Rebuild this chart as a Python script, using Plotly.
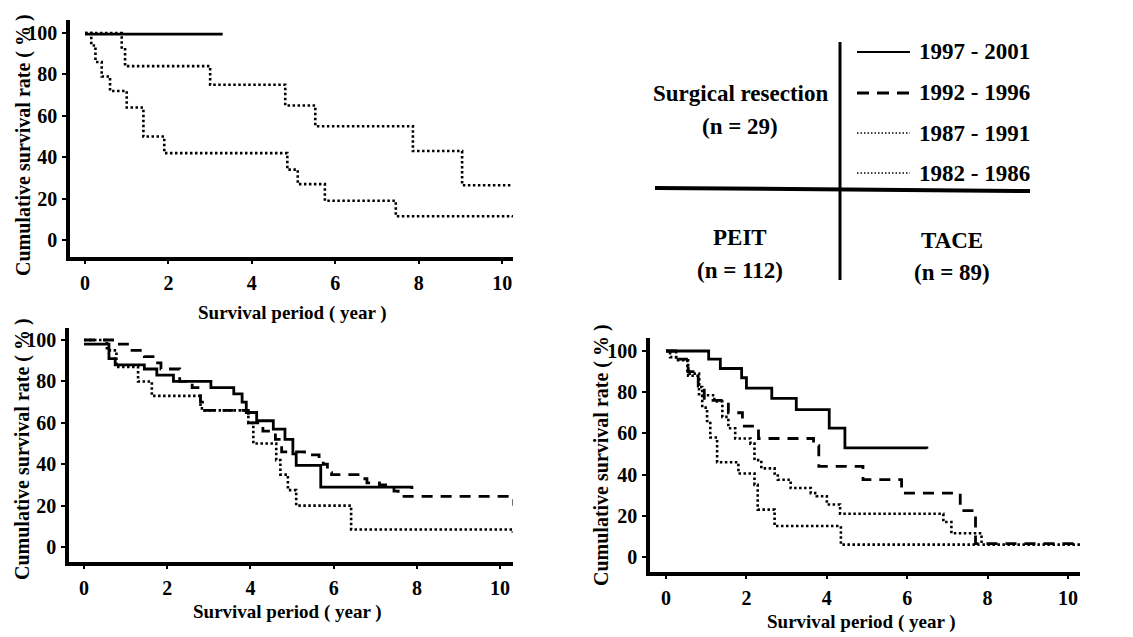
import plotly.graph_objects as go

# ---------------- data ----------------
# Surgical resection (n = 29)
sr_9701_x = [0, 3.3]
sr_9701_y = [99.5, 99.5]
sr_8791_x = [0, 0.88, 0.96, 3.0, 4.8, 5.52, 7.86, 9.04, 10.25]
sr_8791_y = [100, 93, 84, 75, 65, 55, 43, 26.5, 26.5]
sr_8286_x = [0, 0.15, 0.25, 0.4, 0.6, 1.0, 1.4, 1.9, 4.85, 5.1, 5.75, 7.45, 10.25]
sr_8286_y = [100, 94, 86, 79, 72, 64, 50, 42, 34, 27, 19, 11.5, 11]

# PEIT (n = 112)
peit_9701_x = [0, 0.6, 0.75, 1.45, 1.75, 2.15, 3.05, 3.6, 3.8, 3.9, 4.15, 4.55, 4.83, 5.02, 5.1, 5.69, 7.88]
peit_9701_y = [98, 91, 88, 86, 83, 80, 77, 74, 70, 65, 61, 57, 52, 45, 39.5, 29, 28]
peit_9296_x = [0, 0.85, 1.1, 1.45, 1.7, 1.85, 2.3, 2.6, 2.8, 2.9, 3.95, 4.3, 4.6, 4.75, 5.3, 5.65, 5.75, 5.85, 5.95,
               6.75, 6.8, 7.1, 7.45, 7.55, 10.3, 10.33]
peit_9296_y = [100, 98, 95, 92, 89, 86, 80, 77, 70, 66, 60, 56, 52, 46, 44.5, 42, 40, 36, 35,
               33, 31, 30, 27, 24.5, 24.5, 20]
peit_8791_x = [0, 0.55, 0.78, 1.3, 1.63, 2.8, 2.9, 3.95, 4.07, 4.62, 4.72, 4.9, 5.1, 6.42, 10.3]
peit_8791_y = [100, 95, 87, 80, 73, 67, 66, 60, 50, 42, 35, 27.5, 20, 8.5, 7]

# TACE (n = 89)
tace_9701_x = [0, 1.06, 1.35, 1.88, 2.0, 2.63, 3.24, 4.06, 4.45, 6.49]
tace_9701_y = [100, 96, 91.5, 87, 82, 77, 71.5, 62.5, 53, 52.5]
tace_9296_x = [0, 0.3, 0.55, 0.8, 0.95, 1.55, 1.9, 2.3, 3.67, 3.8, 4.9, 5.86, 7.32, 7.7, 10.3]
tace_9296_y = [100, 96, 90, 83, 76, 70, 63.5, 57.5, 54, 44, 37.5, 31, 22.5, 6.5, 6.5]
tace_8791_x = [0, 0.1, 0.3, 0.55, 0.82, 0.9, 1.2, 1.4, 1.55, 1.72, 2.1, 2.2, 2.37, 2.7, 2.78, 3.1, 3.6, 3.75,
               4.0, 4.33, 6.9, 7.1, 7.85, 10.3]
tace_8791_y = [100, 97, 95.5, 88, 82.5, 78.5, 75.5, 68, 62.5, 57.5, 55, 47, 43, 40.5, 37.5, 33.5, 31, 29.5,
               25.5, 21, 17, 11.5, 6, 6]
tace_8286_x = [0, 0.25, 0.53, 0.82, 0.9, 1.02, 1.1, 1.27, 1.8, 2.2, 2.28, 2.7, 4.35, 7.8]
tace_8286_y = [100, 96, 89, 79, 72.5, 66, 58, 46, 40.5, 35, 23, 15, 6, 6]

period_labels = ["1997 - 2001", "1992 - 1996", "1987 - 1991", "1982 - 1986"]
x_ticks = [0, 2, 4, 6, 8, 10]
y_ticks = [0, 20, 40, 60, 80, 100]

# ---------------- styles ----------------
W, H = 1133, 637
FONT = "Liberation Serif"
SOLID = dict(color="black", width=2.8)
DASH = dict(color="black", width=2.8, dash="11px,8px")
DOT = dict(color="black", width=2.6, dash="2.5px,2.5px")


def px(x):
    return x / W


def py(y):
    return 1 - y / H


fig = go.Figure()


def add(xs, ys, line, ax):
    fig.add_trace(go.Scatter(x=xs, y=ys, mode="lines", line=dict(shape="hv", **line),
                             xaxis="x" + ax, yaxis="y" + ax, showlegend=False, hoverinfo="skip"))


add(sr_9701_x, sr_9701_y, SOLID, "")
add(sr_8791_x, sr_8791_y, DOT, "")
add(sr_8286_x, sr_8286_y, DOT, "")

add(peit_9701_x, peit_9701_y, SOLID, "2")
add(peit_9296_x, peit_9296_y, DASH, "2")
add(peit_8791_x, peit_8791_y, DOT, "2")

add(tace_9701_x, tace_9701_y, SOLID, "3")
add(tace_9296_x, tace_9296_y, DASH, "3")
add(tace_8791_x, tace_8791_y, DOT, "3")
add(tace_8286_x, tace_8286_y, DOT, "3")

tickfont = dict(family=FONT, size=20, color="black", weight="bold")


def xax(domain, rng, anchor):
    return dict(domain=domain, range=rng, anchor=anchor, tickvals=x_ticks, ticks="outside", ticklen=3,
                tickwidth=2, tickcolor="black", showline=True, linewidth=3.5, linecolor="black",
                showgrid=False, zeroline=False, tickfont=tickfont, ticklabelstandoff=2, fixedrange=True)


def yax(domain, rng, anchor):
    return dict(domain=domain, range=rng, anchor=anchor, tickvals=y_ticks, ticks="outside", ticklen=4,
                tickwidth=2, tickcolor="black", showline=True, linewidth=3.5, linecolor="black",
                showgrid=False, zeroline=False, tickfont=tickfont, ticklabelstandoff=1, fixedrange=True)


fig.update_layout(
    width=W, height=H, margin=dict(l=0, r=0, t=0, b=0),
    paper_bgcolor="white", plot_bgcolor="white", showlegend=False,
    xaxis=xax([px(70), px(513)], [-0.36, 10.26], "y"),
    yaxis=yax([py(257), py(20)], [-8.2, 106.3], "x"),
    xaxis2=xax([px(69), px(513)], [-0.36, 10.31], "y2"),
    yaxis2=yax([py(562), py(328)], [-7.2, 105.8], "x2"),
    xaxis3=xax([px(650), px(1080)], [-0.4, 10.3], "y3"),
    yaxis3=yax([py(572), py(338)], [-7.3, 106.3], "x3"),
)

titlefont = dict(family=FONT, size=20, color="black", weight="bold")
ann = []
ytitle = "Cumulative survival rate ( % )"
xtitle = "Survival period ( year )"
for (xx, yy) in [(23, 145), (23, 449), (601, 455)]:
    ann.append(dict(x=px(xx), y=py(yy), xref="paper", yref="paper", text=ytitle, textangle=-90,
                    showarrow=False, font=titlefont, xanchor="center", yanchor="middle"))
for (xx, yy) in [(292, 313), (287, 612), (861, 622)]:
    ann.append(dict(x=px(xx), y=py(yy), xref="paper", yref="paper", text=xtitle,
                    showarrow=False, font=dict(family=FONT, size=19, color="black", weight="bold"),
                    xanchor="center", yanchor="middle"))

tabfont = dict(family=FONT, size=23, color="black", weight="bold")
for (txt, xx, yy) in [("Surgical resection", 740, 94), ("(n = 29)", 740, 127),
                      ("PEIT", 740, 237), ("(n = 112)", 740, 270),
                      ("TACE", 952, 240), ("(n = 89)", 952, 272)]:
    ann.append(dict(x=px(xx), y=py(yy), xref="paper", yref="paper", text=txt, showarrow=False,
                    font=tabfont, xanchor="center", yanchor="middle"))

leg_y = [52, 93, 133, 173]
leg_styles = [dict(color="black", width=1.8),
              dict(color="black", width=2.8, dash="12px,8px"),
              dict(color="black", width=1.6, dash="1.5px,2px"),
              dict(color="black", width=1.6, dash="1.5px,2px")]
shapes = []
for lbl, yy, st in zip(period_labels, leg_y, leg_styles):
    shapes.append(dict(type="line", xref="paper", yref="paper", x0=px(857), x1=px(910),
                       y0=py(yy), y1=py(yy), line=st))
    ann.append(dict(x=px(917), y=py(yy), xref="paper", yref="paper", text=lbl, showarrow=False,
                    font=tabfont, xanchor="left", yanchor="middle"))

shapes.append(dict(type="line", xref="paper", yref="paper", x0=px(840), x1=px(840), y0=py(42), y1=py(280),
                   line=dict(color="black", width=3)))
shapes.append(dict(type="line", xref="paper", yref="paper", x0=px(655), x1=px(1030), y0=py(188), y1=py(191),
                   line=dict(color="black", width=4)))

fig.update_layout(annotations=ann, shapes=shapes)
fig.write_html("out.html")
